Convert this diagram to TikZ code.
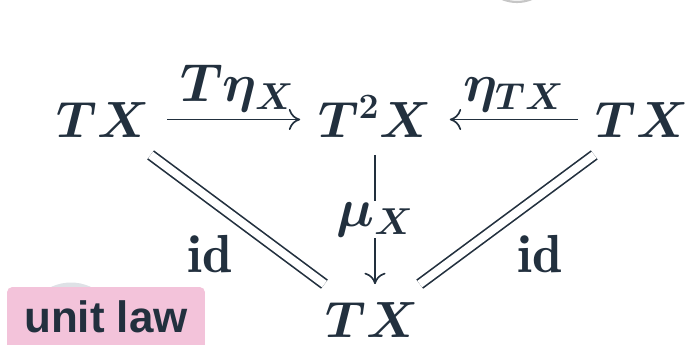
\RequirePackage{fix-cm}
\documentclass[tikz,border=0pt]{standalone}
\usepackage{amsmath}
\usepackage{amssymb}
\usepackage{bm}
\usepackage{fontspec}
\newfontfamily\tagfont{Liberation Sans}
\usetikzlibrary{arrows.meta,positioning,calc}
\definecolor{ink}{HTML}{22303E}
\definecolor{tagpink}{HTML}{F3C3DA}
\definecolor{ghost}{HTML}{DEE1E6}

\begin{document}
\begin{tikzpicture}[
    x=0.02cm, y=-0.02cm,
    obj/.style={anchor=base, inner sep=10pt, text=ink, font=\fontsize{29}{32}\selectfont},
    lbl/.style={text=ink, inner sep=4pt, font=\fontsize{30.5}{33}\selectfont},
    arrow/.style={-{Computer Modern Rightarrow[length=6.5pt,width=12pt]}, draw=ink, line width=0.95pt},
    idline/.style={draw=ink, double=white, double distance=4.6pt, line width=0.95pt},
    tagbox/.style={rectangle, fill=tagpink, rounded corners=3pt, minimum width=3.96cm, minimum height=1.3cm, text depth=0.1cm, font=\tagfont\bfseries\fontsize{25}{28}\selectfont, text=ink}
]
\useasboundingbox (0,0) rectangle (694,345);

% faint discs in the background
\draw[gray!45, fill=gray!8, line width=1.2pt] (517,-37) circle (0.78cm);
\fill[ghost] (71,329) circle (0.93cm);

% objects
\node[obj] (tl) at (103,137) {$\bm{TX}$};
\node[obj] (mid) at (375,137) {$\bm{T^2X}$};
\node[obj] (tr) at (642,137) {$\bm{TX}$};
\node[obj] (bot) at (372,337) {$\bm{TX}$};

% morphisms
\draw[arrow] (tl.east) -- (tl.east -| mid.west) node[midway,above,lbl,xshift=2pt] {$\bm{T\eta_X}$};
\draw[arrow] (tr.west) -- (tr.west -| mid.east) node[midway,above,lbl] {$\bm{\eta_{TX}}$};
\draw[arrow] (mid.south) -- (mid.south |- bot.north) node[midway,lbl,fill=white,inner sep=1pt] {$\bm{\mu_X}$};
\draw[idline] (tl) -- (bot) node[pos=0.55,lbl,xshift=-0.72cm,yshift=-0.56cm] {$\mathbf{id}$};
\draw[idline] (tr) -- (bot) node[pos=0.55,lbl,xshift=0.84cm,yshift=-0.56cm] {$\mathbf{id}$};

% tag
\node[tagbox] (law) at (106,319.5) {unit law};

\end{tikzpicture}
\end{document}
